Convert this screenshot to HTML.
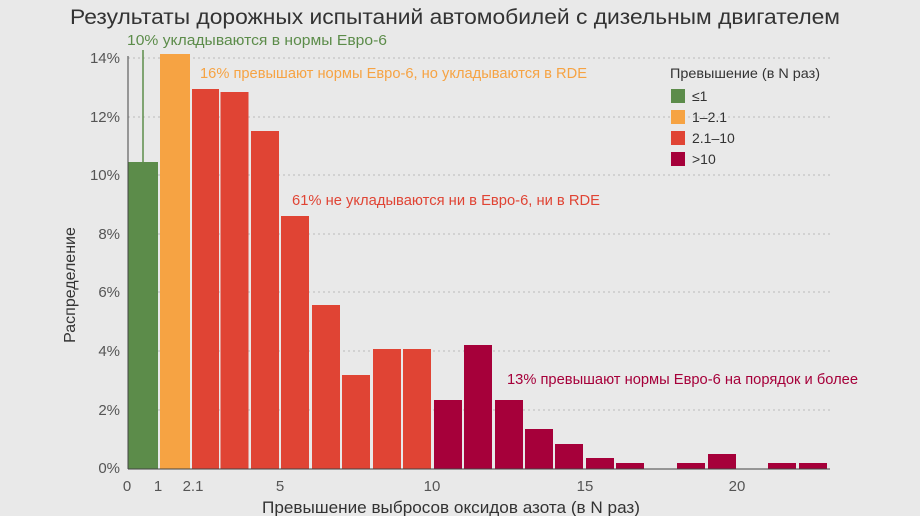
<!DOCTYPE html>
<html><head><meta charset="utf-8"><style>
html,body{margin:0;padding:0;background:#e9e9e9;}
svg{display:block;font-family:"Liberation Sans",sans-serif;}
</style></head><body>
<svg width="920" height="516" viewBox="0 0 920 516">
<rect width="920" height="516" fill="#e9e9e9"/>
<text x="70" y="24" font-size="21" fill="#333" textLength="770" lengthAdjust="spacingAndGlyphs">Результаты дорожных испытаний автомобилей с дизельным двигателем</text>
<g stroke="#bbb" stroke-dasharray="2,3" stroke-width="1">
<line x1="128" x2="830" y1="58" y2="58"/>
<line x1="128" x2="830" y1="117" y2="117"/>
<line x1="128" x2="830" y1="175" y2="175"/>
<line x1="128" x2="830" y1="234" y2="234"/>
<line x1="128" x2="830" y1="292" y2="292"/>
<line x1="128" x2="830" y1="351" y2="351"/>
<line x1="128" x2="830" y1="410" y2="410"/>
</g>
<g font-size="15" fill="#555" text-anchor="end">
<text x="120" y="63">14%</text><text x="120" y="122">12%</text><text x="120" y="180">10%</text>
<text x="120" y="239">8%</text><text x="120" y="297">6%</text><text x="120" y="356">4%</text>
<text x="120" y="415">2%</text><text x="120" y="473">0%</text>
</g>
<rect x="128" y="162" width="30" height="307" fill="#5c8c4a"/>
<rect x="160" y="54" width="30" height="415" fill="#f6a343"/>
<g fill="#e04434">
<rect x="192" y="89" width="27" height="380"/>
<rect x="220.5" y="92" width="28" height="377"/>
<rect x="251" y="131" width="28" height="338"/>
<rect x="281" y="216" width="28" height="253"/>
<rect x="312" y="305" width="28" height="164"/>
<rect x="342" y="375" width="28" height="94"/>
<rect x="373" y="349" width="28" height="120"/>
<rect x="403" y="349" width="28" height="120"/>
</g>
<g fill="#a6003a">
<rect x="434" y="400" width="28" height="69"/>
<rect x="464" y="345" width="28" height="124"/>
<rect x="495" y="400" width="28" height="69"/>
<rect x="525" y="429" width="28" height="40"/>
<rect x="555" y="444" width="28" height="25"/>
<rect x="586" y="458" width="28" height="11"/>
<rect x="616" y="463" width="28" height="6"/>
<rect x="677" y="463" width="28" height="6"/>
<rect x="708" y="454" width="28" height="15"/>
<rect x="768" y="463" width="28" height="6"/>
<rect x="799" y="463" width="28" height="6"/>
</g>
<line x1="128" y1="56" x2="128" y2="469" stroke="#444" stroke-width="1"/>
<line x1="128" y1="469" x2="830" y2="469" stroke="#444" stroke-width="1"/>
<line x1="143" y1="50" x2="143" y2="162" stroke="#5c8c4a" stroke-width="1.5"/>
<g font-size="15" fill="#555" text-anchor="middle">
<text x="127" y="491">0</text><text x="158" y="491">1</text><text x="193" y="491">2.1</text>
<text x="280" y="491">5</text><text x="432" y="491">10</text><text x="585" y="491">15</text><text x="737" y="491">20</text>
</g>
<text x="262" y="513" font-size="17" fill="#333" textLength="378" lengthAdjust="spacingAndGlyphs">Превышение выбросов оксидов азота (в N раз)</text>
<text transform="translate(75,285) rotate(-90)" font-size="16" fill="#333" text-anchor="middle">Распределение</text>
<text x="127" y="45" font-size="14.5" fill="#5c8c4a" textLength="260" lengthAdjust="spacingAndGlyphs">10% укладываются в нормы Евро-6</text>
<text x="200" y="78" font-size="14.5" fill="#f6a343" textLength="387" lengthAdjust="spacingAndGlyphs">16% превышают нормы Евро-6, но укладываются в RDE</text>
<text x="292" y="205" font-size="14.5" fill="#e04434" textLength="308" lengthAdjust="spacingAndGlyphs">61% не укладываются ни в Евро-6, ни в RDE</text>
<text x="507" y="384" font-size="14.5" fill="#a6003a" textLength="351" lengthAdjust="spacingAndGlyphs">13% превышают нормы Евро-6 на порядок и более</text>
<text x="670" y="78" font-size="14" fill="#333" textLength="150" lengthAdjust="spacingAndGlyphs">Превышение (в N раз)</text>
<rect x="671" y="89" width="14" height="14" fill="#5c8c4a"/><text x="692" y="101" font-size="14" fill="#333">≤1</text>
<rect x="671" y="110" width="14" height="14" fill="#f6a343"/><text x="692" y="122" font-size="14" fill="#333">1–2.1</text>
<rect x="671" y="131" width="14" height="14" fill="#e04434"/><text x="692" y="143" font-size="14" fill="#333">2.1–10</text>
<rect x="671" y="152" width="14" height="14" fill="#a6003a"/><text x="692" y="164" font-size="14" fill="#333">&gt;10</text>
</svg>
</body></html>
